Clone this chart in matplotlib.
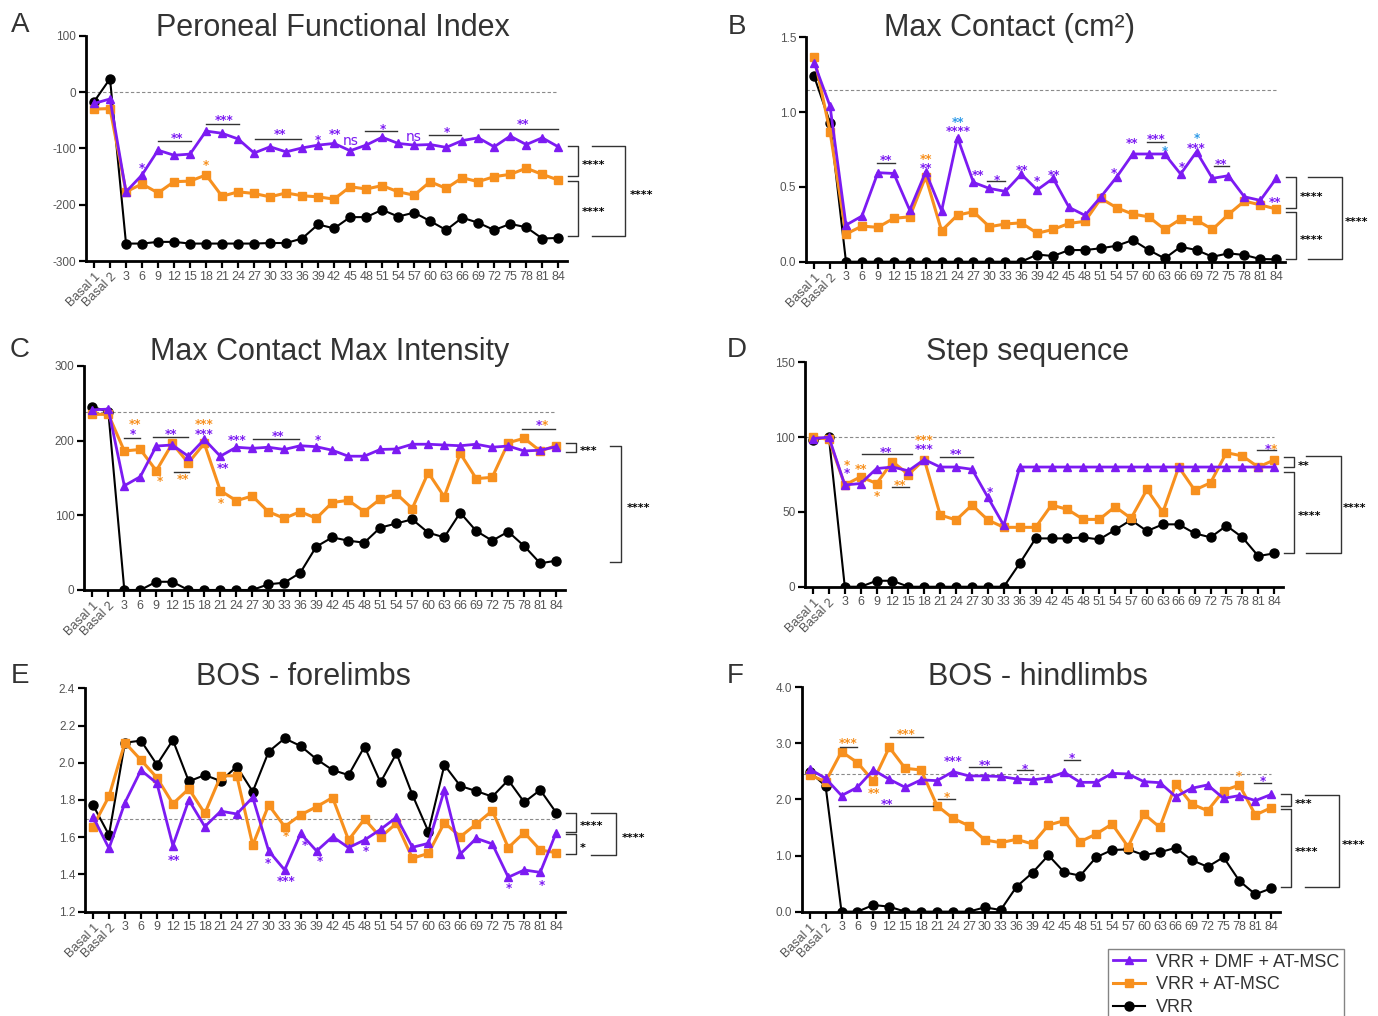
import numpy as np
import matplotlib
matplotlib.use('Agg')
import matplotlib.pyplot as plt
from matplotlib.lines import Line2D

plt.rcParams['font.family'] = ['Liberation Sans', 'DejaVu Sans']

PURPLE = '#7c1bf2'
ORANGE = '#f7901e'
BLUE = '#2f9be8'
BLACK = '#000000'
W, H = 1378, 1016

# x categories: two basal sessions then days 3..84
tick_labels = ['Basal 1', 'Basal 2'] + [str(d) for d in range(3, 85, 3)]

# A - Peroneal Functional Index
pfi_dmf = [-20, -12, -177, -147, -103, -112, -110, -69, -73, -83, -108, -97, -106, -99, -94,
           -91, -104, -94, -80, -91, -94, -93, -98, -86, -81, -97, -78, -93, -81, -97]
pfi_msc = [-30, -29, -177, -163, -179, -159, -158, -147, -185, -177, -180, -186, -179, -184, -186,
           -190, -168, -172, -166, -177, -183, -159, -171, -152, -159, -150, -146, -135, -146, -156]
pfi_vrr = [-17, 24, -269, -269, -266, -266, -269, -269, -269, -269, -269, -268, -268, -260, -235,
           -242, -222, -222, -209, -221, -214, -229, -245, -223, -232, -245, -234, -240, -260, -259]

# B - Max Contact (cm2)
mc_dmf = [1.33, 1.04, 0.245, 0.305, 0.595, 0.59, 0.345, 0.60, 0.34, 0.83, 0.53, 0.49, 0.47, 0.585, 0.48,
          0.557, 0.363, 0.31, 0.434, 0.568, 0.72, 0.72, 0.72, 0.586, 0.735, 0.557, 0.575, 0.434, 0.41, 0.557]
mc_msc = [1.37, 0.87, 0.185, 0.238, 0.23, 0.29, 0.30, 0.568, 0.207, 0.312, 0.334, 0.234, 0.252, 0.26, 0.19,
          0.216, 0.256, 0.27, 0.423, 0.36, 0.318, 0.30, 0.216, 0.285, 0.278, 0.216, 0.316, 0.405, 0.38, 0.352]
mc_vrr = [1.24, 0.93, 0, 0, 0, 0, 0, 0, 0, 0, 0, 0, 0, 0, 0.048,
          0.038, 0.078, 0.078, 0.09, 0.107, 0.145, 0.078, 0.022, 0.10, 0.078, 0.033, 0.056, 0.045, 0.018, 0.016]

# C - Max Contact Max Intensity
mi_dmf = [241, 242, 139.5, 151.6, 192.6, 194, 179, 201.5, 179, 191, 189.5, 191, 188, 193, 191.7,
          187, 179, 179, 188, 188.6, 195, 195, 194, 193, 195, 191, 192.6, 186, 187, 191.7]
mi_msc = [235, 235, 186, 188, 159.6, 196, 170, 196, 133, 119.5, 125.7, 104.8, 95.9, 104.8, 95.9,
          117, 120, 104.8, 121.7, 129, 109, 157, 124.8, 182.8, 149, 150.7, 197, 203, 186, 193]
mi_vrr = [245, 238.5, 0, 0, 11, 11, 0, 0, 0, 0, 0, 7.6, 9.8, 23, 58,
          70.4, 66, 63.3, 83.4, 89, 94.5, 76.7, 70.4, 103.4, 79, 66, 78, 58.8, 35.7, 39.2]

# D - Step sequence
ss_dmf = [99, 100, 68, 69, 79, 80, 77.5, 85, 80, 80, 78.5, 59.7, 41, 80, 80,
          80, 80, 80, 80, 80, 80, 80, 80, 80, 80, 80, 80, 80, 80, 80]
ss_msc = [100, 98.5, 68, 73.5, 69, 83.6, 75, 85, 48, 44.6, 54.6, 44.6, 39.7, 39.7, 39.7,
          54.6, 51.7, 45, 45, 53.5, 45.7, 65, 49.7, 80, 64.6, 69.5, 89.6, 87.4, 80, 84.7]
ss_vrr = [98, 100, 0, 0, 4, 4, 0, 0, 0, 0, 0, 0, 0, 15.6, 32.3,
          32.3, 32.3, 33, 31.6, 38, 44.6, 37.2, 41.7, 41.7, 35.7, 33, 40.8, 33, 20.5, 22.3]

# E - BOS forelimbs
bf_dmf = [1.71, 1.54, 1.786, 1.96, 1.89, 1.555, 1.80, 1.657, 1.74, 1.725, 1.814, 1.526, 1.424, 1.62, 1.526,
          1.603, 1.544, 1.585, 1.642, 1.707, 1.546, 1.567, 1.854, 1.51, 1.594, 1.564, 1.385, 1.424, 1.411, 1.625]
bf_msc = [1.657, 1.82, 2.108, 2.015, 1.92, 1.78, 1.86, 1.728, 1.93, 1.93, 1.558, 1.773, 1.657, 1.72, 1.764,
          1.813, 1.585, 1.698, 1.6, 1.675, 1.487, 1.513, 1.678, 1.603, 1.671, 1.743, 1.544, 1.625, 1.531, 1.517]
bf_vrr = [1.773, 1.612, 2.108, 2.119, 1.99, 2.122, 1.9, 1.934, 1.902, 1.98, 1.845, 2.06, 2.131, 2.09, 2.019,
          1.961, 1.934, 2.087, 1.895, 2.051, 1.827, 1.63, 1.988, 1.875, 1.848, 1.818, 1.907, 1.788, 1.854, 1.732]

# F - BOS hindlimbs
bh_dmf = [2.544, 2.377, 2.07, 2.217, 2.526, 2.36, 2.217, 2.35, 2.336, 2.496, 2.42, 2.42, 2.41, 2.366, 2.35,
          2.385, 2.484, 2.306, 2.306, 2.467, 2.455, 2.318, 2.3, 2.05, 2.2, 2.26, 2.02, 2.07, 1.98, 2.09]
bh_msc = [2.437, 2.318, 2.853, 2.657, 2.33, 2.93, 2.556, 2.526, 1.89, 1.664, 1.533, 1.278, 1.23, 1.29, 1.207,
          1.545, 1.623, 1.248, 1.385, 1.563, 1.159, 1.741, 1.504, 2.276, 1.92, 1.8, 2.157, 2.258, 1.724, 1.854]
bh_vrr = [2.496, 2.24, 0, 0, 0.119, 0.089, 0, 0, 0, 0, 0, 0.077, 0.03, 0.446, 0.695,
          1.005, 0.70, 0.642, 0.97, 1.10, 1.11, 1.01, 1.058, 1.14, 0.92, 0.80, 0.97, 0.547, 0.309, 0.416]

# significance marks (x index, y, text, colour) and bars (x start, x end, y)
marks_A = [(3, -130, '*', PURPLE), (5.2, -76, '**', PURPLE), (8.1, -45, '***', PURPLE), (11.6, -70, '**', PURPLE),
           (14, -80, '*', PURPLE), (15.05, -70, '**', PURPLE), (16.05, -88, 'ns', PURPLE), (18.05, -60, '*', PURPLE),
           (20, -81, 'ns', PURPLE), (22.05, -65, '*', PURPLE), (26.8, -52, '**', PURPLE), (7, -124, '*', ORANGE)]
bars_A = [(4, 6.05, -86), (7, 9.05, -56), (10.05, 12.9, -84), (16.9, 18.95, -69), (20.9, 22.95, -76), (24.1, 29, -65)]

marks_B = [(4.5, 0.697, '**', PURPLE), (7, 0.707, '**', ORANGE), (7, 0.645, '**', PURPLE), (9.05, 0.955, '**', BLUE),
           (9.05, 0.895, '****', PURPLE), (10.3, 0.60, '**', PURPLE), (11.5, 0.568, '*', PURPLE), (13.05, 0.635, '**', PURPLE),
           (14, 0.557, '*', PURPLE), (15.05, 0.601, '**', PURPLE), (18.8, 0.612, '*', PURPLE), (19.95, 0.813, '**', PURPLE),
           (21.45, 0.842, '***', PURPLE), (22, 0.762, '*', BLUE), (23.05, 0.653, '*', PURPLE), (24.05, 0.845, '*', BLUE),
           (24, 0.782, '***', PURPLE), (25.55, 0.675, '**', PURPLE), (28.95, 0.416, '**', PURPLE)]
bars_B = [(3.92, 5.05, 0.657), (10.87, 12.0, 0.539), (20.9, 22.07, 0.797), (25.07, 26.03, 0.639)]

marks_C = [(2.65, 226, '**', ORANGE), (2.55, 213, '*', PURPLE), (4.9, 213, '**', PURPLE), (5.65, 151.6, '**', ORANGE),
           (4.2, 149.4, '*', ORANGE), (7, 226, '***', ORANGE), (7, 213, '***', PURPLE), (8.15, 166.3, '**', PURPLE),
           (8.05, 120.4, '*', ORANGE), (9.07, 205, '***', PURPLE), (11.6, 209.5, '**', PURPLE), (14.1, 204, '*', PURPLE),
           (27.9, 225, '*', PURPLE), (28.3, 225, '*', ORANGE)]
bars_C = [(1.98, 2.98, 204), (3.78, 5.97, 205), (5.1, 6.07, 157.4), (10.03, 12.95, 201.5), (26.85, 28.94, 215.3)]

marks_D = [(2.13, 83.5, '*', ORANGE), (2.13, 78.0, '*', PURPLE), (3.0, 80.7, '**', ORANGE), (4.6, 92, '**', PURPLE),
           (4.0, 62.8, '*', ORANGE), (5.5, 69.8, '**', ORANGE), (6.96, 99.8, '***', ORANGE), (6.96, 94.0, '***', PURPLE),
           (9.0, 90.7, '**', PURPLE), (11.15, 65.1, '*', PURPLE), (28.6, 94, '*', PURPLE), (29.0, 94, '*', ORANGE)]
bars_D = [(3.07, 6.2, 88.7), (4.98, 6.05, 66.4), (8.0, 10.04, 86.5), (27.95, 29.14, 91.4)]

marks_E = [(5.07, 1.495, '**', PURPLE), (10.95, 1.478, '*', PURPLE), (12.1, 1.38, '***', PURPLE), (12.1, 1.621, '*', ORANGE),
           (13.24, 1.571, '*', PURPLE), (14.18, 1.487, '*', PURPLE), (17.1, 1.54, '*', PURPLE), (26.06, 1.343, '*', PURPLE),
           (28.1, 1.361, '*', PURPLE)]
bars_E = []

marks_F = [(2.4, 3.05, '***', ORANGE), (6.07, 3.21, '***', ORANGE), (4.02, 2.17, '**', ORANGE), (4.86, 1.97, '**', PURPLE),
           (8.62, 2.1, '*', ORANGE), (8.99, 2.73, '***', PURPLE), (11.0, 2.67, '**', PURPLE), (13.5, 2.6, '*', PURPLE),
           (16.5, 2.79, '*', PURPLE), (26.97, 2.467, '*', ORANGE), (28.47, 2.377, '*', PURPLE)]
bars_F = [(1.9, 2.98, 2.94), (5.03, 7.1, 3.12), (1.87, 7.76, 1.89), (8.05, 9.13, 2.0), (10.0, 12.05, 2.585),
          (13.0, 14.0, 2.526), (15.96, 17.0, 2.7), (27.9, 28.96, 2.29)]

# group comparison brackets at the right: (top, bottom, label)
small_A = [(-96, -149, '****'), (-157.6, -256, '****')]
big_A = (-96, -256, '****')
small_B = [(0.563, 0.356, '****'), (0.33, 0.016, '****')]
big_B = (0.563, 0.016, '****')
small_C = [(197, 184, '***')]
big_C = (193, 37.4, '****')
small_D = [(86.9, 79.8, '**'), (76.9, 22.7, '****')]
big_D = (87.4, 22.7, '****')
small_E = [(1.732, 1.63, '****'), (1.616, 1.51, '*')]
big_E = (1.732, 1.504, '****')
small_F = [(2.098, 1.884, '***'), (1.825, 0.434, '****')]
big_F = (2.08, 0.434, '****')

fig = plt.figure(figsize=(W / 100, H / 100), dpi=100)
fig.patch.set_facecolor('white')


def star(ax, x, y, s, color, size=8.5, ha='center'):
    off = -2.3 if s == 'ns' else -4.9
    ax.annotate(s, (x, y), xytext=(0, off), textcoords='offset points', ha=ha, va='baseline',
                color=color, fontsize=size if s != 'ns' else 10,
                fontweight='bold' if s != 'ns' else 'normal',
                family='DejaVu Sans', annotation_clip=False)


def panel(rect, dmf, msc, vrr, ylim, yticks, ylabels, ref, marks, bars, small, big, big_x):
    ax = fig.add_axes(rect)
    x = np.arange(len(tick_labels))
    ax.plot([-0.5, 29], [ref, ref], ls=(0, (3, 2)), color='#8a8a8a', lw=0.8, zorder=1)
    ax.plot(x, vrr, color=BLACK, lw=1.5, marker='o', ms=6.5, zorder=3)
    ax.plot(x, msc, color=ORANGE, lw=2.2, marker='s', ms=6.3, zorder=4)
    ax.plot(x, dmf, color=PURPLE, lw=2.0, marker='^', ms=6, zorder=5)
    ax.set_xlim(-0.5, 29.55)
    ax.set_ylim(*ylim)
    ax.set_yticks(yticks)
    ax.set_yticklabels(ylabels)
    ax.set_xticks(x)
    ax.set_xticklabels(tick_labels)
    for sp in ['top', 'right']:
        ax.spines[sp].set_visible(False)
    for sp in ['left', 'bottom']:
        ax.spines[sp].set_linewidth(2)
    ax.tick_params(axis='both', direction='out', length=5, width=1.6, colors='black',
                   labelcolor='#555555', pad=2)
    ax.tick_params(axis='x', labelsize=9)
    ax.tick_params(axis='y', labelsize=8.5)
    for lab in ax.get_xticklabels()[:2]:
        lab.set_rotation(45)
        lab.set_ha('right')
        lab.set_va('top')
        lab.set_rotation_mode('anchor')
    ax.patch.set_alpha(0)

    for x0, x1, yb in bars:
        ax.plot([x0, x1], [yb, yb], color='#333333', lw=1, zorder=6, clip_on=False)
    for xm, ym, s, c in marks:
        star(ax, xm, ym, s, c)

    for top, bot, lab in small:
        ax.plot([29.6, 30.25, 30.25, 29.6], [top, top, bot, bot], color='#333333', lw=1, clip_on=False)
        star(ax, 30.45, (top + bot) / 2, lab, 'black', size=8, ha='left')
    x0, xv, xt = big_x
    top, bot, lab = big
    ax.plot([x0, xv, xv, x0], [top, top, bot, bot], color='#333333', lw=1, clip_on=False)
    star(ax, xt, (top + bot) / 2, lab, 'black', size=8, ha='left')
    return ax


panel([0.0624, 0.7431, 0.3491, 0.2215], pfi_dmf, pfi_msc, pfi_vrr, (-300, 100),
      [-300, -200, -100, 0, 100], ['-300', '-200', '-100', '0', '100'], 0,
      marks_A, bars_A, small_A, big_A, (31.1, 33.2, 33.45))
panel([0.585, 0.7424, 0.3475, 0.2209], mc_dmf, mc_msc, mc_vrr, (0, 1.5),
      [0, 0.5, 1.0, 1.5], ['0.0', '0.5', '1.0', '1.5'], 1.15,
      marks_B, bars_B, small_B, big_B, (31.0, 33.14, 33.27))
panel([0.0612, 0.4193, 0.3488, 0.2207], mi_dmf, mi_msc, mi_vrr, (0, 300),
      [0, 100, 200, 300], ['0', '100', '200', '300'], 238.5,
      marks_C, bars_C, small_C, big_C, (32.38, 33.05, 33.42))
panel([0.5842, 0.4225, 0.3468, 0.2209], ss_dmf, ss_msc, ss_vrr, (0, 150),
      [0, 50, 100, 150], ['0', '50', '100', '150'], 100,
      marks_D, bars_D, small_D, big_D, (31.0, 33.19, 33.3))
panel([0.0617, 0.1027, 0.3483, 0.2198], bf_dmf, bf_msc, bf_vrr, (1.2, 2.4),
      [1.2, 1.4, 1.6, 1.8, 2.0, 2.2, 2.4], ['1.2', '1.4', '1.6', '1.8', '2.0', '2.2', '2.4'], 1.7,
      marks_E, bars_E, small_E, big_E, (31.17, 32.77, 33.1))
panel([0.5818, 0.1027, 0.3471, 0.2208], bh_dmf, bh_msc, bh_vrr, (0, 4.0),
      [0, 1, 2, 3, 4], ['0.0', '1.0', '2.0', '3.0', '4.0'], 2.455,
      marks_F, bars_F, small_F, big_F, (31.1, 33.27, 33.42))

# titles and panel letters
titles = [('Peroneal Functional Index', 333, 28), ('Max Contact (cm²)', 1010, 28),
          ('Max Contact Max Intensity', 330, 352), ('Step sequence', 1028, 352),
          ('BOS - forelimbs', 303, 677), ('BOS - hindlimbs', 1038, 677)]
for t, px, py in titles:
    fig.text(px / W, 1 - py / H, t, ha='center', va='center', fontsize=22, color='#333333')

letters = [('A', 20, 25), ('B', 737, 27), ('C', 20, 350), ('D', 737, 350), ('E', 20, 676), ('F', 735, 676)]
for t, px, py in letters:
    fig.text(px / W, 1 - py / H, t, ha='center', va='center', fontsize=20, color='#333333')

handles = [Line2D([], [], color=PURPLE, lw=2, marker='^', ms=6),
           Line2D([], [], color=ORANGE, lw=2.2, marker='s', ms=6),
           Line2D([], [], color=BLACK, lw=1.5, marker='o', ms=6.5)]
leg = fig.legend(handles, ['VRR + DMF + AT-MSC', 'VRR + AT-MSC', 'VRR'], loc='upper left',
                 bbox_to_anchor=(1108 / W, 1 - 949 / H), frameon=True, fancybox=False,
                 edgecolor='#666666', fontsize=13, handlelength=1.8, borderpad=0.25,
                 labelspacing=0.32, handletextpad=0.6, borderaxespad=0)
for txt in leg.get_texts():
    txt.set_color('#333333')

fig.savefig('out.png', dpi=100, facecolor='white')
